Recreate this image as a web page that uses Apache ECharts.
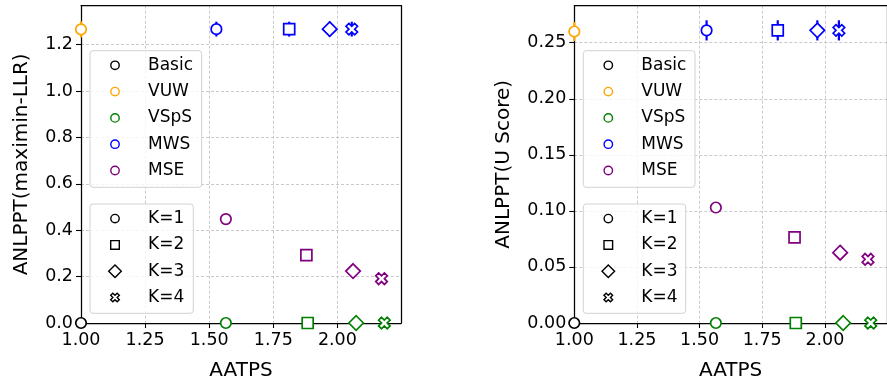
<!DOCTYPE html>
<html>
<head>
<meta charset="utf-8">
<script src="https://cdn.jsdelivr.net/npm/echarts@6/dist/echarts.min.js"></script>
<style>
  html, body { margin: 0; padding: 0; background: #fff; }
  #chart { width: 887px; height: 387px; }
</style>
</head>
<body>
<div id="chart"></div>
<script>
// legend entries
var methodNames = ['Basic', 'VUW', 'VSpS', 'MWS', 'MSE'];
var kNames = ['K=1', 'K=2', 'K=3', 'K=4'];
var xName = 'AATPS';
var yNames = ['ANLPPT(maximin-LLR)', 'ANLPPT(U Score)'];

// tick labels
var xTicks = [1.00, 1.25, 1.50, 1.75, 2.00];
var yTicksLLR = [0.0, 0.2, 0.4, 0.6, 0.8, 1.0, 1.2];
var yTicksU = [0.00, 0.05, 0.10, 0.15, 0.20, 0.25];

// AATPS per method, K = 1..4
var basicX = [1.0];
var vuwX = [1.0];
var vspsX = [1.565, 1.884, 2.073, 2.183];
var mwsX = [1.528, 1.812, 1.970, 2.056];
var mseX = [1.565, 1.879, 2.061, 2.172];

// ANLPPT(maximin-LLR)
var basicLLR = [0.0];
var vuwLLR = [1.266];
var vuwLLRErr = [0.035];
var vspsLLR = [0.0, 0.0, 0.0, 0.0];
var mwsLLR = [1.267, 1.267, 1.267, 1.267];
var mwsLLRErr = [0.032, 0.032, 0.032, 0.032];
var mseLLR = [0.448, 0.293, 0.224, 0.191];

// ANLPPT(U Score)
var basicU = [0.0];
var vuwU = [0.260];
var vuwUErr = [0.0085];
var vspsU = [0.0, 0.0, 0.0, 0.0];
var mwsU = [0.261, 0.261, 0.261, 0.261];
var mwsUErr = [0.009, 0.009, 0.009, 0.009];
var mseU = [0.103, 0.0764, 0.0627, 0.0568];

var colors = {
    Basic: '#000000',
    VUW: '#ffa500',
    VSpS: '#008000',
    MWS: '#0000ff',
    MSE: '#800080'
};

var FONT = 'DejaVu Sans';
// matplotlib style filled "X", drawn hollow
var xPath = 'path://M3,0L6,3L9,0L12,3L9,6L12,9L9,12L6,9L3,12L0,9L3,6L0,3Z';
var kSymbols = ['circle', 'rect', 'diamond', xPath];
var kSizes = [10.5, 11, 14.5, 11.5];

function scatterSeries(gi, name, xs, ys) {
    return {
        type: 'scatter',
        name: name,
        xAxisIndex: gi,
        yAxisIndex: gi,
        clip: false,
        z: 4,
        data: xs.map(function (x, i) {
            return { value: [x, ys[i]], symbol: kSymbols[i], symbolSize: kSizes[i] };
        }),
        itemStyle: { color: '#ffffff', borderColor: colors[name], borderWidth: 1.7, opacity: 1 },
        emphasis: { disabled: true },
        silent: true
    };
}

function errSeries(gi, name, xs, ys, es) {
    return {
        type: 'custom',
        name: name + ' err',
        xAxisIndex: gi,
        yAxisIndex: gi,
        clip: false,
        z: 3,
        silent: true,
        data: xs.map(function (x, i) { return [x, ys[i], es[i]]; }),
        renderItem: function (params, api) {
            var x = api.value(0), y = api.value(1), e = api.value(2);
            var p1 = api.coord([x, y - e]);
            var p2 = api.coord([x, y + e]);
            return {
                type: 'line',
                shape: { x1: p1[0], y1: p1[1], x2: p2[0], y2: p2[1] },
                style: { stroke: colors[name], lineWidth: 2.2 }
            };
        }
    };
}

var gridLine = { color: '#c4c4c4', width: 0.9, type: [3, 2] };

function xAxisCfg(gi) {
    return {
        type: 'value',
        gridIndex: gi,
        min: xTicks[0],
        max: 2.248,
        interval: xTicks[1] - xTicks[0],
        name: xName,
        nameLocation: 'middle',
        nameGap: 38,
        nameTextStyle: { fontFamily: FONT, fontSize: 20, color: '#000' },
        axisLine: { show: true, onZero: false, lineStyle: { color: '#000', width: 1.25 } },
        axisTick: { show: true, length: 5, lineStyle: { color: '#000', width: 1.1 } },
        axisLabel: {
            fontFamily: FONT, fontSize: 17.5, color: '#000', margin: 8,
            showMaxLabel: false,
            formatter: function (v) { return v.toFixed(2); }
        },
        splitLine: { show: true, showMinLine: false, showMaxLine: false, lineStyle: gridLine }
    };
}

function yAxisCfg(gi, ticks, max, digits, gap) {
    return {
        type: 'value',
        gridIndex: gi,
        min: ticks[0],
        max: max,
        interval: ticks[1] - ticks[0],
        name: yNames[gi],
        nameLocation: 'middle',
        nameGap: gap,
        nameRotate: 90,
        nameTextStyle: { fontFamily: FONT, fontSize: 20, color: '#000' },
        axisLine: { show: true, onZero: false, lineStyle: { color: '#000', width: 1.25 } },
        axisTick: { show: true, length: 5, lineStyle: { color: '#000', width: 1.1 } },
        axisLabel: {
            fontFamily: FONT, fontSize: 17.5, color: '#000', margin: 8,
            showMaxLabel: false,
            formatter: function (v) { return v.toFixed(digits); }
        },
        splitLine: { show: true, showMinLine: false, showMaxLine: false, lineStyle: gridLine }
    };
}

// top / right spines: bare axis lines
function spineAxis(gi, pos, min, max) {
    return {
        type: 'value', gridIndex: gi, position: pos, min: min, max: max,
        axisLine: { show: true, onZero: false, lineStyle: { color: '#000', width: 1.25 } },
        axisTick: { show: false }, axisLabel: { show: false }, splitLine: { show: false }
    };
}

// legend marker built with graphic elements
function legendMarker(sym, cx, cy, color) {
    var style = { fill: '#ffffff', stroke: color, lineWidth: 1.4 };
    if (sym === 'circle') {
        return { type: 'circle', shape: { cx: cx, cy: cy, r: 4.2 }, style: style };
    }
    if (sym === 'rect') {
        return { type: 'rect', shape: { x: cx - 4.3, y: cy - 4.3, width: 8.6, height: 8.6 }, style: style };
    }
    if (sym === 'diamond') {
        return { type: 'polygon', shape: { points: [[cx, cy - 6.3], [cx + 6.3, cy], [cx, cy + 6.3], [cx - 6.3, cy]] }, style: style };
    }
    var pts = [[-3, -6], [0, -3], [3, -6], [6, -3], [3, 0], [6, 3], [3, 6], [0, 3], [-3, 6], [-6, 3], [-3, 0], [-6, -3]];
    return {
        type: 'polygon',
        shape: { points: pts.map(function (p) { return [cx + p[0] * 0.72, cy + p[1] * 0.72]; }) },
        style: style
    };
}

function legendBox(x0, y0, w, h, firstRow, labels, syms, cols) {
    var els = [{
        type: 'rect',
        shape: { x: x0, y: y0, width: w, height: h, r: 3 },
        style: { fill: 'rgba(255,255,255,0.8)', stroke: '#d2d2d2', lineWidth: 1 }
    }];
    labels.forEach(function (lab, i) {
        var cy = y0 + firstRow + i * 26.3;
        els.push(legendMarker(syms[i], x0 + 25, cy, cols[i]));
        els.push({
            type: 'text',
            style: {
                x: x0 + 58, y: cy, text: lab,
                font: '17px "DejaVu Sans"', fill: '#000',
                verticalAlign: 'middle', align: 'left'
            }
        });
    });
    return els;
}

var methodSyms = methodNames.map(function () { return 'circle'; });
var methodCols = methodNames.map(function (n) { return colors[n]; });
var kCols = kNames.map(function () { return '#000000'; });
var kLegendSyms = ['circle', 'rect', 'diamond', 'x'];

var graphics = []
    .concat(legendBox(90, 50.7, 111.7, 136.6, 14.6, methodNames, methodSyms, methodCols))
    .concat(legendBox(90, 204, 103.3, 109.3, 14.6, kNames, kLegendSyms, kCols))
    .concat(legendBox(583.3, 50.7, 111.7, 136.6, 14.6, methodNames, methodSyms, methodCols))
    .concat(legendBox(583.3, 204, 102.4, 109.3, 14.6, kNames, kLegendSyms, kCols));
graphics.forEach(function (g) { g.z = 100; g.silent = true; });

var myChart = echarts.init(document.getElementById('chart'), null, { renderer: 'canvas' });

var option = {
    animation: false,
    backgroundColor: '#ffffff',
    textStyle: { fontFamily: FONT },
    grid: [
        { left: 81, top: 5.7, width: 320, height: 317.3, containLabel: false },
        { left: 574.3, top: 5.7, width: 320, height: 317.3, containLabel: false }
    ],
    xAxis: [xAxisCfg(0), xAxisCfg(1), spineAxis(0, 'top', 1.0, 2.248), spineAxis(1, 'top', 1.0, 2.248)],
    yAxis: [
        yAxisCfg(0, yTicksLLR, 1.368, 1, 49),
        yAxisCfg(1, yTicksU, 0.283, 2, 61),
        spineAxis(0, 'right', 0, 1.368),
        spineAxis(1, 'right', 0, 0.283)
    ],
    graphic: graphics,
    series: [
        errSeries(0, 'VUW', vuwX, vuwLLR, vuwLLRErr),
        errSeries(0, 'MWS', mwsX, mwsLLR, mwsLLRErr),
        scatterSeries(0, 'Basic', basicX, basicLLR),
        scatterSeries(0, 'VUW', vuwX, vuwLLR),
        scatterSeries(0, 'VSpS', vspsX, vspsLLR),
        scatterSeries(0, 'MWS', mwsX, mwsLLR),
        scatterSeries(0, 'MSE', mseX, mseLLR),

        errSeries(1, 'VUW', vuwX, vuwU, vuwUErr),
        errSeries(1, 'MWS', mwsX, mwsU, mwsUErr),
        scatterSeries(1, 'Basic', basicX, basicU),
        scatterSeries(1, 'VUW', vuwX, vuwU),
        scatterSeries(1, 'VSpS', vspsX, vspsU),
        scatterSeries(1, 'MWS', mwsX, mwsU),
        scatterSeries(1, 'MSE', mseX, mseU)
    ]
};

myChart.setOption(option);
</script>
</body>
</html>
